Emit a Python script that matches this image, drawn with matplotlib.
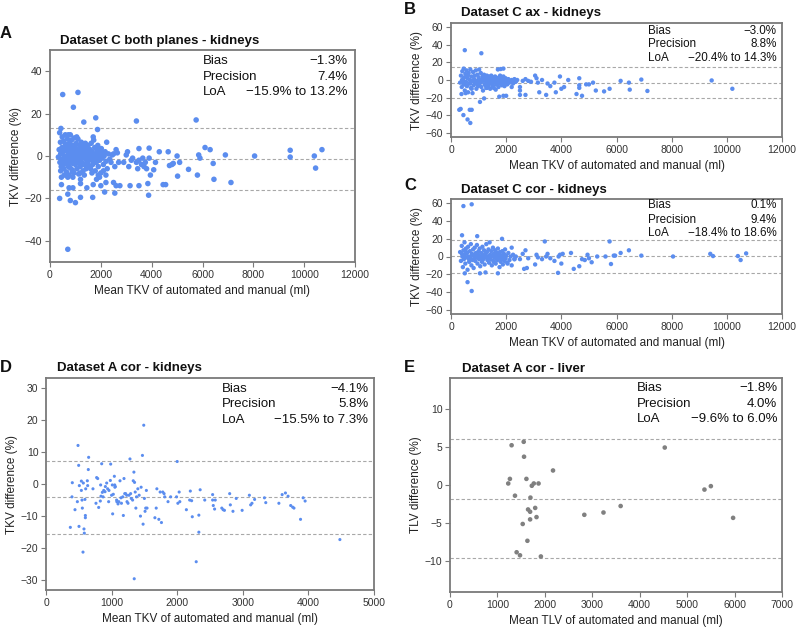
import matplotlib
matplotlib.use('Agg')
import matplotlib.pyplot as plt
import numpy as np

plt.rcParams['font.family'] = ['Liberation Sans', 'DejaVu Sans']

BLUE = '#5b8def'
GREY = '#808080'

# ---- panel A: Dataset C both planes - kidneys (mean ml, diff %)
a_pts = [
    (500, 29), (1100, 30), (920, 23), (1330, 16), (1800, 18), (1870, 12.5), (3400, 16.5), (5750, 17),
    (430, 13), (2230, 6.5), (380, 11), (720, 10), (1050, 9), (1700, 9),
    (3500, 3.5), (3900, 3.7), (4300, 2), (4650, 2), (5000, 0), (5850, 0.5), (5900, -1), (6100, 4),
    (6300, 3), (6900, 0.5), (8050, 0), (9450, 2.7), (9450, -0.5), (10400, 0), (10450, -5.7), (10700, 3),
    (7120, -12.5), (6450, -11), (6420, -3.5), (5800, -9), (5450, -6.3), (5020, -9.5), (5100, -3),
    (4800, -4), (4700, -4.5), (4850, -3.5), (4450, -13.5), (4550, -13.5), (4080, -6.5), (3950, -9),
    (3850, -13), (3880, -18.5), (3500, -14), (3150, -14), (3100, -5), (3800, -6), (3700, -5), (3600, -4),
    (3650, -1), (3250, -1), (3050, 2), (3000, 0.5), (3200, -2), (3400, -3), (3450, -6), (3500, -2),
    (3750, -3), (3900, -1), (4150, -3), (2900, -3), (2700, -3), (2600, 3), (2650, 1.5), (2500, 1),
    (2550, -5), (2750, -14), (2600, -14), (2500, -12.5), (2550, -17.5), (2150, -17), (2200, -12.5),
    (2000, -14), (1950, -10), (1700, -13.5), (1680, -19.5), (1830, -11), (1450, -15), (1200, -11),
    (1200, -13), (1000, -22), (1200, -19.5), (800, -21), (900, -15), (750, -15), (700, -18), (450, -13.5),
    (380, -20), (450, -10), (900, -10), (700, -44),
    (330, -0.5), (360, 3), (390, -3), (410, 6.5), (420, 1), (440, -5), (450, -1.5), (470, 4), (480, 9),
    (500, -2.5), (510, 2), (530, 7), (540, -6), (560, 0), (570, 3.5), (590, -3.5), (600, 10), (610, 5.5),
    (630, -1), (650, -7.5), (660, 2.5), (680, 8), (690, -4), (700, 0.5), (720, -2), (730, 4.5), (750, -9),
    (760, 6), (780, 1.5), (790, -5.5), (800, 10), (810, -1), (830, 3), (840, -3), (850, 7.5), (870, -6.5),
    (880, 0), (900, 5), (910, -2.5), (930, 2), (940, -8), (950, 8.5), (970, -0.5), (980, 4), (1000, -4),
    (1010, 1), (1030, 6), (1040, -2), (1060, -6), (1070, 3), (1090, 0), (1100, 8), (1120, -3), (1130, -8.5),
    (1150, 2), (1160, 5), (1180, -1.5), (1190, -5), (1210, 1), (1230, 6.5), (1240, -3), (1260, 3),
    (1280, -0.5), (1300, -7), (1310, 4.5), (1330, 0.5), (1350, -4), (1370, 2), (1390, 6), (1400, -1.5),
    (1420, -6), (1440, 3.5), (1460, 0), (1480, -2.5), (1500, 5), (1520, -4.5), (1540, 1.5), (1560, -0.5),
    (1580, 3), (1600, -6), (1620, 6), (1640, -2), (1660, 2), (1680, -4), (1700, 0.5), (1720, 7.5),
    (1740, -1), (1760, 4), (1780, -7), (1800, 1), (1820, -3), (1840, 3), (1860, -0.5), (1880, 5), (1900, -5),
    (1920, 2), (1950, -2), (1980, 0), (2000, -8), (2020, 3.5), (2050, -1), (2080, 1.5), (2100, -4),
    (2130, 0), (2170, 2), (2200, -2.5), (2250, -6), (2300, 1), (2350, -1.5), (2400, -3), (2450, 0.5),
    (450, 2), (520, -4), (600, -1), (650, 3), (720, -5), (780, -2), (850, 0.5), (900, -3.5), (980, -1),
    (1050, 2), (1100, -2), (1150, -0.5), (1200, 3), (1250, -1), (1300, 1.5), (1350, 4), (1400, 0.5),
    (1450, -3), (1500, -1), (1550, 2.5), (1650, 0), (1750, -2), (1850, 1),
    (420, -7), (560, -9), (700, -10), (880, -7.5), (1180, -8), (1350, -9), (1650, -8), (1900, -9),
    (2100, -7), (2200, -9),
]

# ---- panel B: Dataset C ax - kidneys
b_pts = [
    (500, 34), (1100, 30.5), (300, -34), (350, -33), (450, -40), (600, -45), (700, -49), (680, -34),
    (750, -34), (1050, -25), (1200, -21), (1750, -19), (1900, -18), (2000, -18), (2500, -17), (2700, -17),
    (3200, -14), (3450, -17), (3800, -14), (4550, -16), (4750, -18), (4650, -9), (4650, -6), (4650, 2),
    (4900, -5), (5000, -5), (5150, -3), (5250, -12), (5550, -13), (5750, -10), (6150, -1), (6450, -3),
    (6480, -11), (6900, 0.5), (7120, -12.5), (9450, -0.5), (10200, -10), (4250, 0), (4000, -10),
    (4100, -8), (3950, 4), (3600, -7), (3500, -4), (3750, -3), (3300, 0), (3050, 5), (3100, 2),
    (3150, -3), (2900, -2), (2800, -1), (2600, -1), (2700, 1), (2400, 0), (2300, -2), (2500, -12),
    (2500, -8), (2200, -8), (1800, 12.5), (1900, 13), (1700, 12), (1300, -9), (1500, -8),
    (330, -3), (360, 5), (390, -8), (410, 10), (430, 1), (450, -5), (460, 13), (480, 3), (500, -12),
    (520, 7), (540, -2), (560, 11), (580, -7), (600, 2), (620, -14), (640, 8), (660, -4), (680, 0),
    (700, 12), (720, -9), (740, 4), (760, -1), (780, -15), (800, 9), (820, -6), (840, 1), (860, 5),
    (880, -3), (900, 11), (920, -10), (940, -1), (960, 6), (980, -7), (1000, 3), (1020, 12), (1040, -4),
    (1060, 0), (1080, 8), (1100, -8), (1120, -2), (1140, 4), (1160, -12), (1180, 1), (1200, 6),
    (1220, -5), (1240, -1), (1260, 3), (1280, -9), (1300, 5), (1320, -3), (1340, 0), (1360, -6),
    (1380, 4), (1400, -2), (1420, -10), (1440, 1), (1460, 5), (1480, -4), (1500, -1), (1520, 3),
    (1540, -7), (1560, 0), (1580, -3), (1600, 4), (1620, -11), (1640, -1), (1660, 2), (1680, -5),
    (1700, 1), (1720, -8), (1740, 3), (1760, -2), (1780, 5), (1800, -4), (1820, 0), (1840, -6),
    (1860, 2), (1880, -1), (1900, 4), (1920, -3), (1940, -7), (1960, 0), (1980, 2), (2000, -2),
    (2040, -5), (2080, 1), (2120, -3), (2160, -1), (2200, 0), (2250, -4), (2300, 1), (2350, -2),
    (400, 0), (470, -2), (550, -6), (610, 5), (700, -4), (750, -10), (850, -2), (950, -5), (1050, -1),
    (1150, 2), (1250, -6), (1350, 2), (1450, -4), (1550, -9), (1650, -5), (1750, -1), (1850, -4),
    (380, -16), (530, -15),
]

# ---- panel C: Dataset C cor - kidneys
c_pts = [
    (450, 57), (750, 59), (600, -29), (750, -39), (500, -19), (400, 24), (950, 23), (1850, 20),
    (3400, 17), (5750, 17), (6450, 7), (6150, 4), (5950, 1), (5900, 1), (5800, -8.5), (5600, 0),
    (5300, 0), (5100, -6.5), (4950, 2), (5000, -2), (4850, -4), (4750, -3), (4650, -11), (4450, -14),
    (4350, 4), (4050, 3), (3950, 2), (3900, 0), (3880, -18.5), (3750, -5), (3600, -2), (3500, 3),
    (3450, 0), (3300, -3), (3150, -1), (3100, 2), (3050, -9), (2800, -2), (2750, -13), (2700, 7),
    (2650, -14), (2600, 3), (2500, -3), (2300, -3), (2200, 10), (2050, -8), (1700, -19), (1050, -19),
    (1250, -18), (6900, 1), (8050, 0), (9400, 3), (9500, 0.5), (10400, 0.5), (10500, -4), (10700, 3.5),
    (4000, -8),
    (330, 5), (360, -5), (390, 12), (410, 0), (430, -12), (450, 7), (470, -3), (490, 16), (500, 2),
    (520, -8), (540, 9), (560, -1), (580, 4), (600, -15), (620, 11), (640, 0), (660, -6), (680, 6),
    (700, -2), (720, 14), (740, -10), (760, 3), (780, -4), (800, 8), (820, -13), (840, 1), (860, 10),
    (880, -5), (900, 4), (920, -1), (940, 13), (960, -8), (980, 2), (1000, 6), (1020, -3), (1040, 9),
    (1060, -11), (1080, 0), (1100, 4), (1120, -6), (1140, 11), (1160, 1), (1180, -2), (1200, 7),
    (1220, -9), (1240, 3), (1260, -1), (1280, 14), (1300, 5), (1320, -4), (1340, 0), (1360, 8),
    (1380, -7), (1400, 16), (1420, 2), (1440, -3), (1460, 6), (1480, -10), (1500, 1), (1520, 10),
    (1540, -5), (1560, 3), (1580, -1), (1600, 7), (1620, -8), (1640, 0), (1660, 4), (1680, -4),
    (1700, 9), (1720, -2), (1740, 2), (1760, -12), (1780, 5), (1800, -6), (1820, 1), (1840, -3),
    (1860, 6), (1880, -9), (1900, 0), (1920, 3), (1940, -5), (1960, 8), (1980, -2), (2000, 1),
    (2040, -7), (2080, 4), (2120, -4), (2160, 0), (2200, -10), (2250, 2), (2300, -3), (2350, 0),
    (400, 3), (480, -1), (550, 5), (650, -3), (750, 1), (850, -2), (950, 3), (1050, -1), (1150, -4),
    (1250, 2), (1350, -2), (1450, 0), (1550, -6), (1650, -2), (1750, 3), (1850, -1),
]

# ---- panel D: Dataset A cor - kidneys
d_pts = [
    (371, -13.5), (401, 0.4), (396, -4), (442, -8), (488, 12), (498, 5.8), (508, -0.5), (478, -5.5),
    (503, -13.2), (539, 0.9), (539, -2), (549, -5), (564, -21.2), (554, -7.5), (569, 0.3), (579, -14),
    (584, -15.3), (594, -4.8), (605, -1.5), (600, -9.8), (600, -10.5), (635, -0.5), (630, 1), (645, 4.5),
    (650, 8.3), (716, -1.5), (772, 2), (788, 1.7), (762, -6), (803, -7.3), (833, -0.3), (849, 6.3),
    (838, -3.8), (859, -2.6), (828, -5.3), (905, -0.8), (925, 0.3), (900, -2.4), (955, -5.5), (986, 6.2),
    (981, 1.1), (1011, -0.3), (1016, -9.3), (1026, -3.2), (1042, 2.4), (1047, -0.3), (1057, -0.8),
    (1077, -5), (1098, -6.2), (1128, 1), (1143, -4.3), (1179, -9.8), (1189, 1.7), (1214, -3), (1235, -5.5),
    (1250, -6), (1265, -3.5), (1280, 7.8), (1290, -3), (1300, -4.5), (1320, -5), (1330, 1), (1340, 3.7),
    (1345, -29.5), (1350, 0.5), (1360, -2.5), (1370, -7.5), (1380, -4), (1400, -1.5), (1420, -3.5),
    (1440, -10), (1450, -1), (1470, 8.9), (1480, -12.5), (1490, 18.3), (1500, -4.5), (1510, -8.5),
    (1520, -7.5), (1530, -2), (1540, -7.5), (1110, -5.5), (1150, -6), (1170, -4), (1200, -3), (1230, -3.5),
    (1050, -1), (1080, -5.5), (1000, -3.5), (960, -2), (940, -1.5), (880, -2), (870, -4), (1660, -10.5),
    (1680, -7.5), (1690, -1.5), (1720, -11), (1740, -2.5), (1760, -12), (1780, -2.5), (1800, -3),
    (1810, -4), (1860, -5.5), (1900, -4), (1990, -4), (2000, 7), (2010, -6), (2030, -2.5), (2040, -5.5),
    (2140, -8), (2190, -5), (2200, -2.2), (2220, -5.2), (2230, -10.2), (2290, -24.2), (2330, -9.7),
    (2330, -15), (2350, -1.8), (2420, -5), (2540, -3.3), (2540, -5), (2550, -6.7), (2570, -7.8),
    (2580, -5), (2680, -7.5), (2700, -8), (2720, -8.2), (2800, -3), (2810, -6.5), (2850, -8.5),
    (2900, -4.5), (2990, -8.2), (3100, -3.5), (3120, -6.5), (3140, -6), (3180, -4.8), (3330, -4.3),
    (3350, -5.8), (3550, -6), (3600, -3.3), (3650, -2.8), (3690, -3.8), (3730, -6.7), (3760, -7.2),
    (3780, -7.5), (3880, -11), (3920, -4.3), (3950, -5.3), (4480, -17.3),
]

# ---- panel E: Dataset A cor - liver
e_pts = [
    (1299, 5.2), (1263, 0.8), (1228, 0.2), (1370, -1.4), (1554, 5.65), (1561, 3.7), (1611, 0.8),
    (1646, -3.2), (1689, -3.5), (1725, -0.1), (1767, 0.2), (1696, -1.65), (1796, -3), (1533, -5.1),
    (1689, -4.5), (1824, -4.2), (1867, 0.2), (2172, 1.9), (1632, -7.3), (1405, -8.8), (1476, -9.2),
    (1916, -9.35), (2832, -3.9), (3236, -3.6), (3598, -2.75), (4528, 4.9), (5365, -0.6), (5500, -0.15),
    (5969, -4.3),
]

# bias, precision, lower LoA, upper LoA
stats_a = (-1.3, 7.4, -15.9, 13.2)
stats_b = (-3.0, 8.8, -20.4, 14.3)
stats_c = (0.1, 9.4, -18.4, 18.6)
stats_d = (-4.1, 5.8, -15.5, 7.3)
stats_e = (-1.8, 4.0, -9.6, 6.0)

W, H = 796, 631
fig = plt.figure(figsize=(W / 100, H / 100), dpi=100)


def px_axes(left, top, right, bottom):
    return fig.add_axes([left / W, 1 - bottom / H, (right - left) / W, (bottom - top) / H])


def fmt(v):
    return ('%.1f%%' % v).replace('-', '\u2212')


def panel(ax, pts, stats, color, s, xlim, xticks, ylim, yticks, xlabel, ylabel,
          txt_x, txt_y, fs):
    x = [p[0] for p in pts]
    y = [p[1] for p in pts]
    bias, prec, lo, hi = stats
    for v in (hi, bias, lo):
        ax.axhline(v, color='#a8a8a8', lw=0.8, ls=(0, (3, 2)), zorder=1)
    ax.scatter(x, y, s=s, color=color, edgecolors='none', zorder=2)
    ax.set_xlim(*xlim)
    ax.set_ylim(*ylim)
    ax.set_xticks(xticks)
    ax.set_yticks(yticks)
    ax.set_yticklabels([str(t).replace('-', '\u2212') for t in yticks])
    for sp in ax.spines.values():
        sp.set_color('#7a7a7a')
        sp.set_linewidth(1.3)
    ax.tick_params(direction='out', length=3.5, width=0.8, color='#7a7a7a',
                   labelsize=7.5, labelcolor='#333333', pad=2)
    ax.set_xlabel(xlabel, fontsize=8.5, color='#222222', labelpad=4)
    ax.set_ylabel(ylabel, fontsize=8.5, color='#222222', labelpad=2)
    rows = [('Bias', fmt(bias)), ('Precision', fmt(prec)),
            ('LoA', fmt(lo) + ' to ' + fmt(hi))]
    for (lab, val), ty in zip(rows, txt_y):
        ax.text(txt_x[0], ty, lab, transform=ax.transAxes, ha='left', va='center',
                fontsize=fs, color='#111111')
        ax.text(txt_x[1], ty, val, transform=ax.transAxes, ha='right', va='center',
                fontsize=fs, color='#111111')


def title(x, y, letter_x, letter_y, text, letter):
    fig.text(x / W, 1 - y / H, text, ha='left', va='center', fontsize=9.5,
             fontweight='bold', color='#111111')
    fig.text(letter_x / W, 1 - letter_y / H, letter, ha='left', va='center',
             fontsize=12, fontweight='bold', color='#111111')


tkv_x = 'Mean TKV of automated and manual (ml)'

axA = px_axes(50, 50, 355, 262)
panel(axA, a_pts, stats_a, BLUE, 16, (0, 12000), range(0, 12001, 2000), (-50, 50),
      [-40, -20, 0, 20, 40], tkv_x, 'TKV difference (%)',
      (0.502, 0.977), (0.948, 0.873, 0.80), 9.5)
title(60, 41, 0, 33, 'Dataset C both planes - kidneys', 'A')

axB = px_axes(451, 23, 782, 137)
panel(axB, b_pts, stats_b, BLUE, 10, (0, 12000), range(0, 12001, 2000), (-65, 65),
      [-60, -40, -20, 0, 20, 40, 60], tkv_x, 'TKV difference (%)',
      (0.596, 0.984), (0.93, 0.813, 0.69), 8.4)
title(461, 13, 404, 10, 'Dataset C ax - kidneys', 'B')

axC = px_axes(451, 199, 782, 314)
panel(axC, c_pts, stats_c, BLUE, 10, (0, 12000), range(0, 12001, 2000), (-65, 65),
      [-60, -40, -20, 0, 20, 40, 60], tkv_x, 'TKV difference (%)',
      (0.596, 0.984), (0.944, 0.82, 0.703), 8.4)
title(461, 190, 404, 185, 'Dataset C cor - kidneys', 'C')

axD = px_axes(46, 378, 374, 590)
panel(axD, d_pts, stats_d, BLUE, 5, (0, 5000), range(0, 5001, 1000), (-33, 33),
      [-30, -20, -10, 0, 10, 20, 30], tkv_x, 'TKV difference (%)',
      (0.536, 0.983), (0.948, 0.876, 0.80), 9.5)
title(57, 368, 0, 367, 'Dataset A cor - kidneys', 'D')

axE = px_axes(450, 378, 782, 592)
panel(axE, e_pts, stats_e, GREY, 11, (0, 7000), range(0, 7001, 1000), (-14, 14),
      [-10, -5, 0, 5, 10], 'Mean TLV of automated and manual (ml)', 'TLV difference (%)',
      (0.563, 0.985), (0.953, 0.879, 0.807), 9.5)
title(462, 369, 404, 368, 'Dataset A cor - liver', 'E')

fig.savefig('out.png', dpi=100)
